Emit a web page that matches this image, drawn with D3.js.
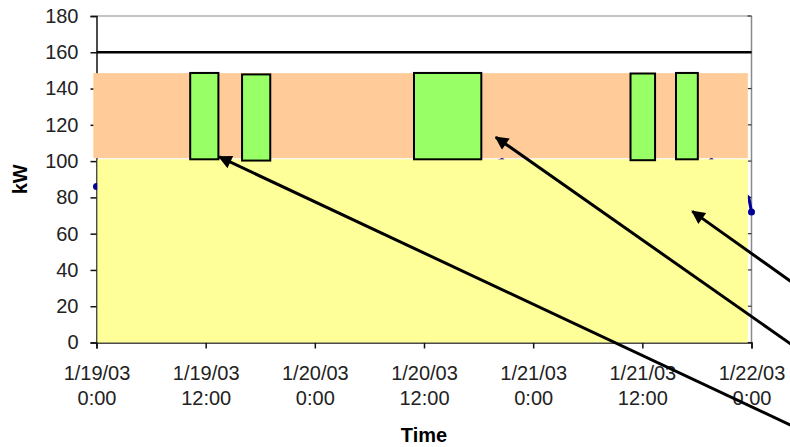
<!DOCTYPE html>
<html>
<head>
<meta charset="utf-8">
<script src="https://cdn.jsdelivr.net/npm/d3@7"></script>
<style>
  html, body { margin: 0; padding: 0; background: #fff; }
  svg { display: block; }
  text { font-family: "Liberation Sans", Arial, sans-serif; }
</style>
</head>
<body>
<svg id="chart" width="790" height="447"></svg>
<script>
// ---- Data (time in hours since 1/19/03 0:00, power in kW) ----
const xTickHours = [0, 12, 24, 36, 48, 60, 72];
const xTickDates = ["1/19/03", "1/19/03", "1/20/03", "1/20/03", "1/21/03", "1/21/03", "1/22/03"];
const xTickTimes = ["0:00", "12:00", "0:00", "12:00", "0:00", "12:00", "0:00"];
const yTicks = [0, 20, 40, 60, 80, 100, 120, 140, 160, 180];

// Background bands
const bandNames = ["orange", "yellow"];
const bandStart = [-0.35, 0.1];
const bandEnd = [71.6, 71.6];
const bandLow = [101.6, 0];
const bandHigh = [148.5, 101];

// Demand limit line
const limitValue = 160;

// Green boxes (events)
const boxStart = [10.3, 16.0, 34.9, 58.7, 63.7];
const boxEnd = [13.4, 19.1, 42.3, 61.4, 66.1];
const boxLow = [101, 100.3, 101, 100.5, 101];
const boxHigh = [148.6, 147.8, 148.6, 148.3, 148.6];

// Load series (mostly hidden behind the bands)
const loadHours = [0, 6, 12, 18, 24, 30, 36, 42, 44.6, 45.6, 48, 54, 60, 66, 67.6, 68.6, 70, 71.7, 72];
const loadKW = [86, 80, 90, 88, 82, 85, 92, 95, 101, 95, 84, 88, 92, 94, 101, 94, 88, 80, 72];

// Annotation arrows (tail -> tip), in hours / kW
const arrowTailH = [76.5, 76.5, 76.5];
const arrowTailKW = [-46, -1.5, 33];
const arrowTipH = [13.5, 43.9, 65.5];
const arrowTipKW = [102.3, 113.2, 72.3];

// ---- Drawing ----
const svg = d3.select("#chart");
const x = d3.scaleLinear().domain([0, 72]).range([96.5, 751.5]);
const y = d3.scaleLinear().domain([0, 180]).range([342.5, 16]);

// Plot frame (top & right, gray)
svg.append("line").attr("x1", x(0)).attr("x2", x(72)).attr("y1", y(180)).attr("y2", y(180))
  .attr("stroke", "#8a8a8a").attr("stroke-width", 1.2);
svg.append("line").attr("x1", x(72)).attr("x2", x(72)).attr("y1", y(180)).attr("y2", y(0))
  .attr("stroke", "#8a8a8a").attr("stroke-width", 1.5);
// right inner ticks
svg.append("g").selectAll("line").data(yTicks).join("line")
  .attr("x1", x(72) - 4).attr("x2", x(72)).attr("y1", d => y(d)).attr("y2", d => y(d))
  .attr("stroke", "#333").attr("stroke-width", 1.2);

// Left axis
const yAxis = svg.append("g").attr("transform", `translate(${x(0)},0)`)
  .call(d3.axisLeft(y).tickValues(yTicks).tickSize(6).tickPadding(12));
yAxis.select(".domain").attr("stroke", "#111").attr("stroke-width", 1.5);
yAxis.selectAll(".tick line").attr("stroke", "#111").attr("stroke-width", 1.5);
yAxis.selectAll(".tick text").attr("font-size", 20).attr("fill", "#222")
  .attr("font-family", "'Liberation Sans', Arial, sans-serif");

// Bottom axis
const xAxis = svg.append("g").attr("transform", `translate(0,${y(0)})`)
  .call(d3.axisBottom(x).tickValues(xTickHours).tickSize(6).tickFormat(""));
xAxis.select(".domain").attr("stroke", "#111").attr("stroke-width", 1.5);
xAxis.selectAll(".tick line").attr("stroke", "#111").attr("stroke-width", 1.5);
xAxis.selectAll(".tick").each(function(d, i) {
  const t = d3.select(this).append("text").attr("fill", "#222").attr("font-size", 20)
    .attr("text-anchor", "middle").attr("font-family", "'Liberation Sans', Arial, sans-serif");
  t.append("tspan").attr("x", 0).attr("y", 37).text(xTickDates[i]);
  t.append("tspan").attr("x", 0).attr("y", 62).text(xTickTimes[i]);
});

// Load series
svg.append("path")
  .datum(loadHours.map((h, i) => [h, loadKW[i]]))
  .attr("fill", "none").attr("stroke", "#000099").attr("stroke-width", 3)
  .attr("d", d3.line().x(d => x(d[0])).y(d => y(d[1])));
svg.append("g").selectAll("circle").data([[loadHours[0], loadKW[0]], [loadHours[loadHours.length - 1], loadKW[loadKW.length - 1]]])
  .join("circle").attr("cx", d => x(d[0])).attr("cy", d => y(d[1])).attr("r", 3.5).attr("fill", "#000099");

// Bands
const bandColor = { orange: "#FFCC99", yellow: "#FFFF99" };
svg.append("g").selectAll("rect").data(bandNames).join("rect")
  .attr("x", (d, i) => x(bandStart[i]))
  .attr("width", (d, i) => x(bandEnd[i]) - x(bandStart[i]))
  .attr("y", (d, i) => y(bandHigh[i]))
  .attr("height", (d, i) => y(bandLow[i]) - y(bandHigh[i]))
  .attr("fill", d => bandColor[d]);

// Limit line
svg.append("line").attr("x1", x(0)).attr("x2", x(72)).attr("y1", y(limitValue)).attr("y2", y(limitValue))
  .attr("stroke", "#000").attr("stroke-width", 2.5);

// Green boxes
svg.append("g").selectAll("rect").data(boxStart).join("rect")
  .attr("x", (d, i) => x(boxStart[i]))
  .attr("width", (d, i) => x(boxEnd[i]) - x(boxStart[i]))
  .attr("y", (d, i) => y(boxHigh[i]))
  .attr("height", (d, i) => y(boxLow[i]) - y(boxHigh[i]))
  .attr("fill", "#99FF66").attr("stroke", "#000").attr("stroke-width", 2);

// Arrows
svg.append("defs").append("marker")
  .attr("id", "ah").attr("viewBox", "0 0 10 10").attr("refX", 9).attr("refY", 5)
  .attr("markerWidth", 5).attr("markerHeight", 4.5).attr("orient", "auto")
  .attr("markerUnits", "strokeWidth")
  .append("path").attr("d", "M0,0 L10,5 L0,10 Z").attr("fill", "#000");
svg.append("g").selectAll("line").data(arrowTipH).join("line")
  .attr("x1", (d, i) => x(arrowTailH[i])).attr("y1", (d, i) => y(arrowTailKW[i]))
  .attr("x2", (d, i) => x(arrowTipH[i])).attr("y2", (d, i) => y(arrowTipKW[i]))
  .attr("stroke", "#000").attr("stroke-width", 3).attr("marker-end", "url(#ah)");

// Axis titles
svg.append("text").attr("x", (x(0) + x(72)) / 2).attr("y", 442).attr("text-anchor", "middle")
  .attr("font-size", 20).attr("font-weight", "bold").attr("fill", "#000").text("Time");
svg.append("text").attr("transform", `translate(27,${(y(0) + y(180)) / 2}) rotate(-90)`)
  .attr("text-anchor", "middle").attr("font-size", 20).attr("font-weight", "bold").attr("fill", "#000").text("kW");
</script>
</body>
</html>
